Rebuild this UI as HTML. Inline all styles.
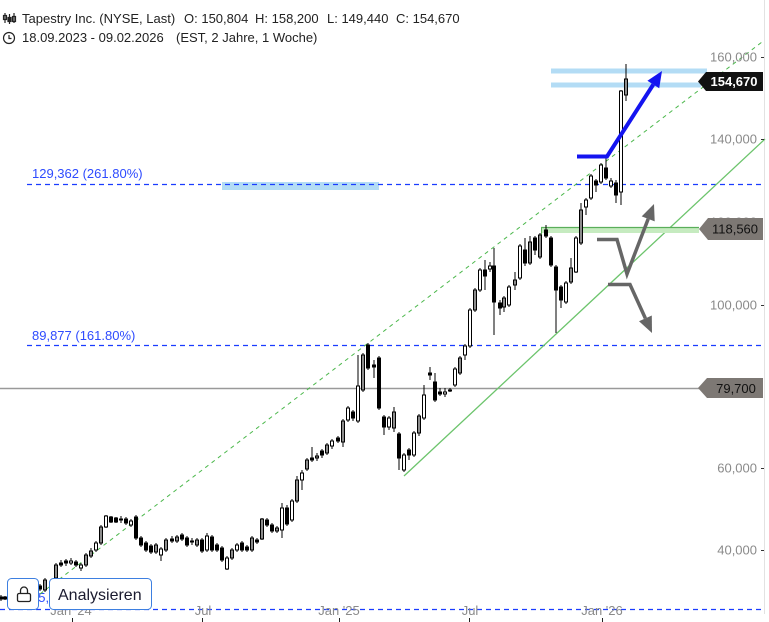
<!DOCTYPE html>
<html><head><meta charset="utf-8"><style>
html,body{margin:0;padding:0;background:#fff;}
svg{display:block;font-family:"Liberation Sans",Arial,sans-serif;}
</style></head><body>
<svg width="769" height="622" viewBox="0 0 769 622" xmlns="http://www.w3.org/2000/svg">
<rect width="769" height="622" fill="#fff"/>
<line x1="764.5" y1="0" x2="764.5" y2="614" stroke="#e2e2e2"/>

<g fill="#222" font-size="13">
<text x="22" y="23">Tapestry Inc. (NYSE, Last)</text>
<text x="184" y="23">O: 150,804</text>
<text x="255" y="23">H: 158,200</text>
<text x="327" y="23">L: 149,440</text>
<text x="396" y="23">C: 154,670</text>
<text x="22" y="42">18.09.2023 - 09.02.2026</text>
<text x="176" y="42">(EST, 2 Jahre, 1 Woche)</text>
</g>
<g stroke="#222" stroke-width="1.2" fill="none">
<line x1="5" y1="13" x2="5" y2="23"/><rect x="3.5" y="15.5" width="3" height="4"/>
<line x1="9.5" y1="14" x2="9.5" y2="24"/><rect x="8" y="17.5" width="3" height="4" fill="#222"/>
<line x1="14" y1="13" x2="14" y2="23"/><rect x="12.5" y="16.5" width="3" height="5"/>
<circle cx="9" cy="38" r="5.5"/><path d="M9 35 V38.5 H11.5"/>
</g>

<rect x="222" y="182" width="157" height="8" fill="#b3dcf5"/>
<rect x="551" y="68.5" width="156" height="5" fill="#b3dcf5"/>
<rect x="551" y="82.5" width="150" height="5" fill="#b3dcf5"/>

<g stroke="#1a3cff" stroke-width="1.2" stroke-dasharray="5 4">
<line x1="27" y1="184.5" x2="764" y2="184.5"/>
<line x1="27" y1="345.5" x2="764" y2="345.5"/>
<line x1="0" y1="609.5" x2="764" y2="609.5"/>
</g>
<g fill="#2e4bff" font-size="13">
<text x="32" y="178">129,362 (261.80%)</text>
<text x="32" y="340">89,877 (161.80%)</text>
<text x="31" y="602">25,440 (61.80%)</text>
</g>

<line x1="0" y1="388.5" x2="700" y2="388.5" stroke="#999" stroke-width="1.5"/>

<line x1="40" y1="594" x2="762" y2="42" stroke="#4cb84c" stroke-width="1" stroke-dasharray="4 4"/>
<line x1="404" y1="476" x2="765" y2="139" stroke="#6cc46c" stroke-width="1.3"/>

<rect x="541" y="227" width="158" height="6" fill="#c6ebc0"/>
<line x1="541" y1="227.5" x2="699" y2="227.5" stroke="#5aae5a" stroke-width="1.2"/>
<line x1="541.5" y1="227" x2="541.5" y2="236" stroke="#5aae5a"/>

<g stroke="#000" stroke-width="1">
<path fill="none" d="M1 595V601M5 596V600M40 584V591M45 578V592M56 563V580M61 560V567M66 559V566M71 558V565M76 560V567M81 563V571M86 553V567M91 548V558M96 541V552M101 525V545M106 515V528M111 516V523M116 517V523M121 516V523M126 517V525M131 519V527M136 515V540M141 536V547M146 541V552M151 544V554M156 543V554M161 547V561M166 538V552M172 536V543M177 535V543M182 533V541M187 536V547M192 538V545M197 538V547M202 538V553M207 533V552M212 535V552M217 543V552M222 546V562M227 556V570M232 548V560M237 543V552M242 541V552M247 545V552M252 536V552M257 538V544M262 518V540M267 518V527M272 523V533M277 526V533M282 503V538M287 505V526M292 499V522M297 476V503M302 470V490M307 458V471M312 447V462M317 453V461M322 449V458M327 443V455M332 439V449M338 436V443M343 419V447M348 406V422M353 410V421M358 355V423M363 353V392M368 343V370M374 360V378M379 356V410M384 415V435M389 416V430M394 407V432M399 432V470M404 453V472M409 448V460M414 431V457M419 414V436M424 385V420M430 367V380M435 373V402M440 388V396M445 388V397M450 388V392M455 367V387M460 356V375M465 344V360M470 308V348M475 288V312M480 268V292M485 260V290M490 262V272M494 248V335M500 300V315M504 296V312M509 285V307M515 272V290M520 244V280M525 238V266M530 236V265M535 236V255M540 233V259M546 225V238M551 236V267M556 265V333M561 285V308M566 281V304M571 258V284M576 236V273M581 203V245M586 198V215M591 174V200M596 179V192M601 163V184M606 158V180M611 178V188M616 180V203M621 90V205M626 64V101"/>
<g fill="#fff">
<rect x="69.5" y="561" width="3" height="2"/>
<rect x="79.5" y="565" width="3" height="3"/>
<rect x="94.5" y="543" width="3" height="7"/>
<rect x="104.5" y="516" width="3" height="11"/>
<rect x="129.5" y="521" width="3" height="4"/>
<rect x="159.5" y="549" width="3" height="6"/>
<rect x="205.5" y="536" width="3" height="14"/>
<rect x="225.5" y="558" width="3" height="11"/>
<rect x="235.5" y="545" width="3" height="5"/>
<rect x="280.5" y="508" width="3" height="22"/>
<rect x="290.5" y="501" width="3" height="19"/>
<rect x="300.5" y="473" width="3" height="7"/>
<rect x="330.5" y="441" width="3" height="5"/>
<rect x="346.5" y="408" width="3" height="12"/>
<rect x="356.5" y="386" width="3" height="35"/>
<rect x="387.5" y="418" width="3" height="9"/>
<rect x="402.5" y="455" width="3" height="15"/>
<rect x="412.5" y="433" width="3" height="22"/>
<rect x="422.5" y="395" width="3" height="23"/>
<rect x="443.5" y="392" width="3" height="2"/>
<rect x="453.5" y="369" width="3" height="16"/>
<rect x="463.5" y="346" width="3" height="9"/>
<rect x="468.5" y="310" width="3" height="36"/>
<rect x="478.5" y="270" width="3" height="20"/>
<rect x="488.5" y="266" width="3" height="3"/>
<rect x="507.5" y="287" width="3" height="18"/>
<rect x="518.5" y="246" width="3" height="32"/>
<rect x="564.5" y="283" width="3" height="19"/>
<rect x="574.5" y="238" width="3" height="34"/>
<rect x="584.5" y="200" width="3" height="7"/>
<rect x="589.5" y="176" width="3" height="22"/>
<rect x="599.5" y="165" width="3" height="17"/>
<rect x="609.5" y="181" width="3" height="5"/>
<rect x="619.5" y="91" width="3" height="101"/>
</g>
<g fill="#8c8c8c">
<rect x="43.5" y="580" width="3" height="10"/>
<rect x="54.5" y="565" width="3" height="13"/>
<rect x="84.5" y="555" width="3" height="10"/>
<rect x="89.5" y="551" width="3" height="5"/>
<rect x="99.5" y="527" width="3" height="16"/>
<rect x="154.5" y="545" width="3" height="7"/>
<rect x="164.5" y="540" width="3" height="10"/>
<rect x="175.5" y="537" width="3" height="4"/>
<rect x="195.5" y="540" width="3" height="5"/>
<rect x="230.5" y="550" width="3" height="8"/>
<rect x="250.5" y="538" width="3" height="12"/>
<rect x="260.5" y="519" width="3" height="20"/>
<rect x="275.5" y="528" width="3" height="3"/>
<rect x="295.5" y="480" width="3" height="21"/>
<rect x="305.5" y="460" width="3" height="9"/>
<rect x="315.5" y="456" width="3" height="2"/>
<rect x="325.5" y="445" width="3" height="8"/>
<rect x="341.5" y="421" width="3" height="21"/>
<rect x="361.5" y="355" width="3" height="35"/>
<rect x="392.5" y="412" width="3" height="16"/>
<rect x="417.5" y="416" width="3" height="17"/>
<rect x="458.5" y="358" width="3" height="15"/>
<rect x="473.5" y="290" width="3" height="20"/>
<rect x="502.5" y="298" width="3" height="9"/>
<rect x="513.5" y="280" width="3" height="5"/>
<rect x="528.5" y="242" width="3" height="21"/>
<rect x="538.5" y="235" width="3" height="22"/>
<rect x="569.5" y="268" width="3" height="14"/>
<rect x="579.5" y="210" width="3" height="33"/>
<rect x="624.5" y="79" width="3" height="16"/>
</g>
<g fill="#000">
<rect x="-0.5" y="597" width="3" height="2"/>
<rect x="3.5" y="597" width="3" height="2"/>
<rect x="38.5" y="586" width="3" height="3"/>
<rect x="59.5" y="563" width="3" height="2"/>
<rect x="64.5" y="561" width="3" height="2"/>
<rect x="74.5" y="562" width="3" height="3"/>
<rect x="109.5" y="517" width="3" height="5"/>
<rect x="114.5" y="518" width="3" height="4"/>
<rect x="119.5" y="519" width="3" height="1"/>
<rect x="124.5" y="519" width="3" height="4"/>
<rect x="134.5" y="517" width="3" height="21"/>
<rect x="139.5" y="538" width="3" height="7"/>
<rect x="144.5" y="543" width="3" height="7"/>
<rect x="149.5" y="546" width="3" height="6"/>
<rect x="170.5" y="539" width="3" height="2"/>
<rect x="180.5" y="535" width="3" height="4"/>
<rect x="185.5" y="538" width="3" height="7"/>
<rect x="190.5" y="541" width="3" height="1"/>
<rect x="200.5" y="540" width="3" height="11"/>
<rect x="210.5" y="537" width="3" height="13"/>
<rect x="215.5" y="545" width="3" height="5"/>
<rect x="220.5" y="548" width="3" height="12"/>
<rect x="240.5" y="543" width="3" height="7"/>
<rect x="245.5" y="547" width="3" height="3"/>
<rect x="255.5" y="540" width="3" height="2"/>
<rect x="265.5" y="520" width="3" height="5"/>
<rect x="270.5" y="525" width="3" height="6"/>
<rect x="285.5" y="508" width="3" height="16"/>
<rect x="310.5" y="458" width="3" height="2"/>
<rect x="320.5" y="451" width="3" height="4"/>
<rect x="336.5" y="438" width="3" height="3"/>
<rect x="351.5" y="412" width="3" height="6"/>
<rect x="366.5" y="345" width="3" height="23"/>
<rect x="372.5" y="365" width="3" height="2"/>
<rect x="377.5" y="358" width="3" height="50"/>
<rect x="382.5" y="417" width="3" height="10"/>
<rect x="397.5" y="434" width="3" height="24"/>
<rect x="407.5" y="450" width="3" height="5"/>
<rect x="428.5" y="373" width="3" height="2"/>
<rect x="433.5" y="382" width="3" height="18"/>
<rect x="438.5" y="392" width="3" height="2"/>
<rect x="448.5" y="390" width="3" height="1"/>
<rect x="483.5" y="270" width="3" height="6"/>
<rect x="492.5" y="266" width="3" height="36"/>
<rect x="498.5" y="303" width="3" height="5"/>
<rect x="523.5" y="250" width="3" height="13"/>
<rect x="533.5" y="238" width="3" height="12"/>
<rect x="544.5" y="230" width="3" height="6"/>
<rect x="549.5" y="238" width="3" height="27"/>
<rect x="554.5" y="267" width="3" height="23"/>
<rect x="559.5" y="287" width="3" height="13"/>
<rect x="594.5" y="181" width="3" height="4"/>
<rect x="604.5" y="168" width="3" height="10"/>
<rect x="614.5" y="183" width="3" height="12"/>
</g>
</g>

<polyline points="577,156.5 607,156.5 653.3,84.5" fill="none" stroke="#1414f0" stroke-width="4"/>
<polygon points="662,71 659.2,88.3 647.4,80.7" fill="#1414f0"/>

<g fill="none" stroke="#666" stroke-width="3.5">
<polyline points="597,239.5 617,239.5 627,274 648.2,218.9"/>
<polyline points="608,284.5 630,284.5 645.4,318.4"/>
</g>
<polygon points="654,204 654.7,221.4 641.7,216.4" fill="#666"/>
<polygon points="652,333 639,321.3 651.8,315.5" fill="#666"/>

<g fill="#8a8a8a" font-size="13" text-anchor="end">
<text x="757" y="61.5">160,000</text>
<text x="757" y="143.5">140,000</text>
<text x="757" y="226.5">120,000</text>
<text x="757" y="309.5">100,000</text>
<text x="757" y="472.5">60,000</text>
<text x="757" y="554.5">40,000</text>
</g>
<g stroke="#333" stroke-width="1">
<line x1="761" y1="57.5" x2="764" y2="57.5"/>
<line x1="761" y1="139.5" x2="764" y2="139.5"/>
<line x1="761" y1="305.5" x2="764" y2="305.5"/>
<line x1="761" y1="468.5" x2="764" y2="468.5"/>
<line x1="761" y1="550.5" x2="764" y2="550.5"/>
</g>

<path d="M698 81.5 L706 72 H763 V91 H706 Z" fill="#111"/>
<text x="734" y="86" fill="#fff" font-size="13" font-weight="bold" text-anchor="middle">154,670</text>
<path d="M699 229 L708 218 H763 V240 H708 Z" fill="#7d7874"/>
<text x="735" y="233.5" fill="#111" font-size="13" text-anchor="middle">118,560</text>
<path d="M698 388 L707 378 H763 V398 H707 Z" fill="#7d7874"/>
<text x="736" y="393" fill="#111" font-size="13" text-anchor="middle">79,700</text>

<g fill="#8a8a8a" font-size="13" text-anchor="middle">
<text x="71" y="615">Jan '24</text>
<text x="203" y="615">Jul</text>
<text x="339" y="615">Jan '25</text>
<text x="470" y="615">Jul</text>
<text x="602" y="615">Jan '26</text>
</g>
<g stroke="#222" stroke-width="1">
<line x1="72.5" y1="618" x2="72.5" y2="622"/>
<line x1="202.5" y1="618" x2="202.5" y2="622"/>
<line x1="339.5" y1="618" x2="339.5" y2="622"/>
<line x1="469.5" y1="618" x2="469.5" y2="622"/>
<line x1="602.5" y1="618" x2="602.5" y2="622"/>
</g>

<rect x="7.5" y="578.5" width="31" height="31" rx="4" fill="#fff" stroke="#3d7fe0"/>
<g fill="none" stroke="#222" stroke-width="1.3">
<rect x="17.5" y="593.5" width="13" height="8" rx="1.5"/>
<path d="M20.5 593.5 V590.5 a3.5 3.5 0 0 1 7 0 V593.5"/>
</g>
<rect x="49.5" y="578.5" width="102" height="31" rx="4" fill="#fff" stroke="#3d7fe0"/>
<text x="58" y="600" fill="#1b1b2f" font-size="16">Analysieren</text>
</svg>
</body></html>
